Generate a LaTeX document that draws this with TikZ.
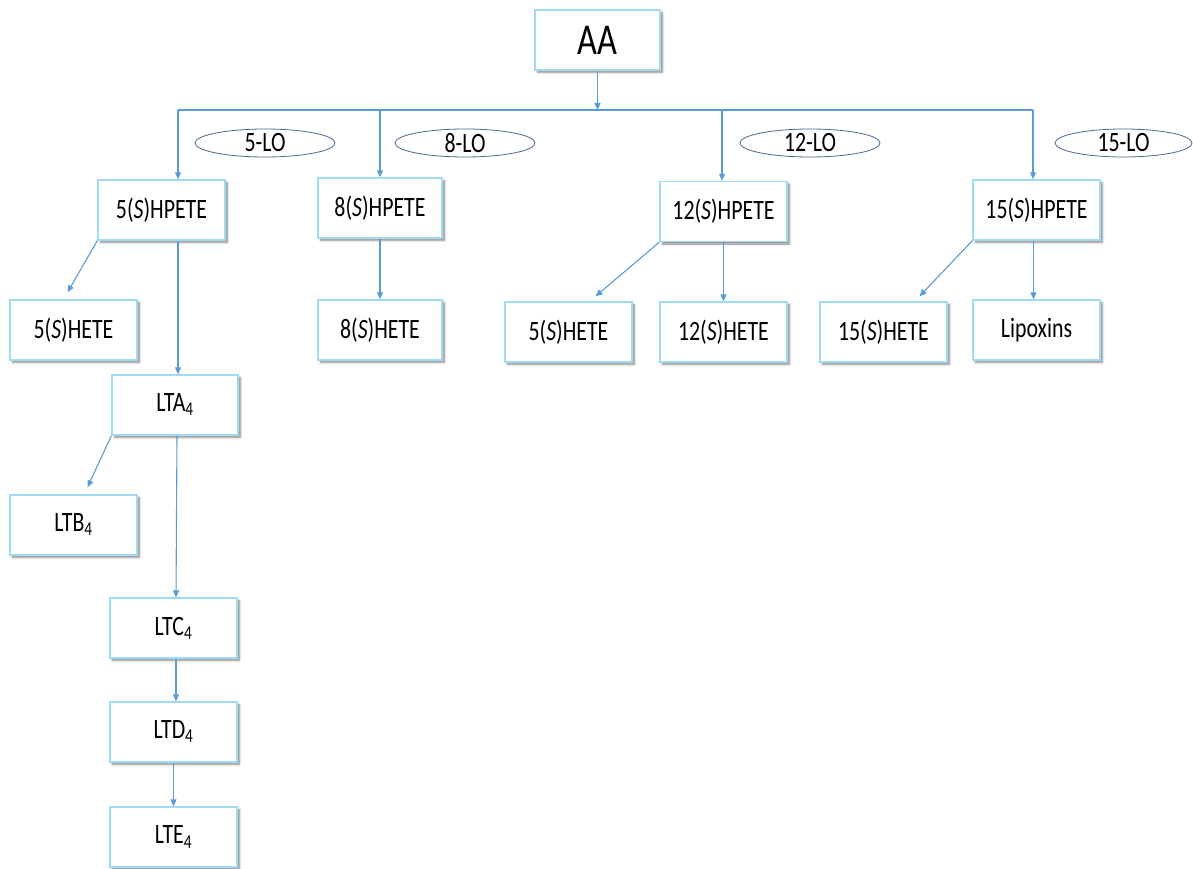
\documentclass[tikz,border=0pt]{standalone}
\usepackage{fontspec}
\setmainfont{Carlito}[FakeStretch=0.78]
\usetikzlibrary{arrows.meta,shapes.geometric,shadows.blur,calc}
\definecolor{linec}{RGB}{91,155,213}
\definecolor{boxc}{RGB}{160,218,243}
\definecolor{ellc}{RGB}{75,105,145}
\tikzset{
  bx/.style={draw=boxc,line width=1.4pt,fill=white,minimum width=127pt,minimum height=60pt,
    inner sep=0pt,font=\fontsize{28}{30}\selectfont,
    blur shadow={shadow xshift=2.5pt,shadow yshift=-2.5pt,shadow blur steps=5,shadow blur radius=2pt,shadow opacity=45}},
  el/.style={ellipse,draw=ellc,line width=0.8pt,fill=white,minimum width=140pt,minimum height=28pt,
    inner sep=0pt,font=\fontsize{28}{30}\selectfont},
  arr/.style={draw=linec,line width=1.1pt,-{Triangle[length=7pt,width=6pt]}},
  ln/.style={draw=linec,line width=1.1pt}
}
\begin{document}
\begin{tikzpicture}[x=1pt,y=-1pt]
\useasboundingbox (0,0) rectangle (1193,869);
% boxes
\node[bx,minimum width=125pt,font=\fontsize{44}{46}\selectfont] (AA) at (597.5,40) {AA};
\node[bx] (h5) at (161.5,210) {5(\textit{S})HPETE};
\node[bx,minimum width=124pt] (h8) at (380,208) {8(\textit{S})HPETE};
\node[bx] (h12) at (723.5,211.5) {12(\textit{S})HPETE};
\node[bx] (h15) at (1036.5,210) {15(\textit{S})HPETE};
\node[bx] (e5l) at (73.5,330) {5(\textit{S})HETE};
\node[bx,minimum width=126pt] (lta) at (175,405) {LTA\textsubscript{4}};
\node[bx] (ltb) at (73.5,525) {LTB\textsubscript{4}};
\node[bx] (ltc) at (173.5,628) {LTC\textsubscript{4}};
\node[bx] (ltd) at (173.5,732) {LTD\textsubscript{4}};
\node[bx] (lte) at (173.5,837) {LTE\textsubscript{4}};
\node[bx,minimum width=124pt] (e8) at (380,330) {8(\textit{S})HETE};
\node[bx] (e5b) at (568.5,332) {5(\textit{S})HETE};
\node[bx] (e12) at (723.5,332) {12(\textit{S})HETE};
\node[bx] (e15) at (883.5,332) {15(\textit{S})HETE};
\node[bx] (lip) at (1036.5,330) {Lipoxins};
% ellipses
\node[el] (lo5) at (265,143) {5-LO};
\node[el] (lo8) at (465,143) {8-LO};
\node[el] (lo12) at (810,143) {12-LO};
\node[el,minimum width=137pt] (lo15) at (1123.5,143) {15-LO};
% bus
\coordinate (b5) at (178,110);
\coordinate (b8) at (380,110);
\coordinate (b12) at (722,110);
\coordinate (b15) at (1033,110);
\draw[ln] (b5) -- (b15);
\draw[arr] (AA.south) -- (AA.south |- b5);
\draw[arr] (b5) -- (b5 |- h5.north);
\draw[arr] (b8) -- (b8 |- h8.north);
\draw[arr] (b12) -- (b12 |- h12.north);
\draw[arr] (b15) -- (b15 |- h15.north);
% 5-LO branch
\draw[arr] (h5.south west) -- ($(e5l.north)+(-6,-7)$);
\draw[arr] (b5 |- h5.south) -- (b5 |- lta.north);
\draw[arr] (lta.south west) -- ($(ltb.north)+(14,-7)$);
\draw[arr] ($(lta.south)+(2,0)$) -- ($(ltc.north)+(2.5,0)$);
\draw[arr] ($(ltc.south)+(2.5,0)$) -- ($(ltd.north)+(2.5,0)$);
\draw[arr] ($(ltd.south)+(0,0)$) -- ($(lte.north)+(0,0)$);
% 8-LO
\draw[arr] (h8.south) -- (e8.north);
% 12-LO
\draw[arr] (h12.south west) -- ($(e5b.north)+(27,-5)$);
\draw[arr] (h12.south) -- (e12.north);
% 15-LO
\draw[arr] (h15.south west) -- ($(e15.north)+(36,-5)$);
\draw[arr] ($(h15.south)+(-3,0)$) -- ($(lip.north)+(-3,0)$);
\end{tikzpicture}
\end{document}
